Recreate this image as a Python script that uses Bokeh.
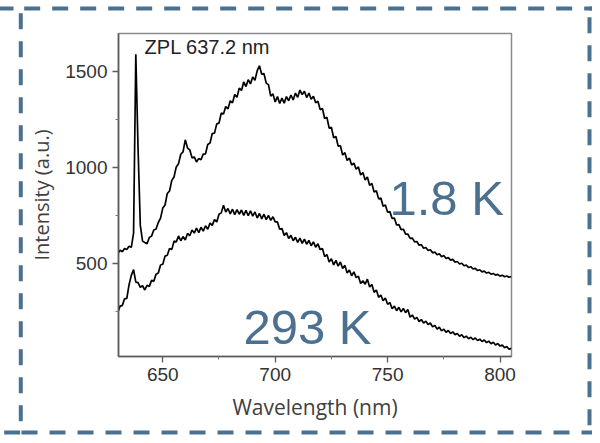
from bokeh.plotting import figure
from bokeh.models import Range1d, Label, FixedTicker
from bokeh.embed import file_html
from bokeh.resources import INLINE

# ---- data ----
wavelength_nm = list(range(630, 806))

intensity_1p8K = [
    552, 571, 563, 580, 574, 591, 586, 660, 1590, 1100,   # 630-639
    700, 618, 611, 604, 637, 644, 676, 681, 715, 738,     # 640-649
    790, 806, 866, 879, 934, 952, 1004, 1021, 1070, 1082, # 650-659
    1145, 1102, 1093, 1051, 1056, 1030, 1048, 1041, 1071, 1072,  # 660-669
    1121, 1128, 1178, 1180, 1228, 1232, 1284, 1279, 1318, 1306,  # 670-679
    1348, 1337, 1381, 1366, 1414, 1402, 1446, 1422, 1458, 1436,  # 680-689
    1472, 1455, 1505, 1530, 1486, 1490, 1440, 1432, 1372, 1384,  # 690-699
    1342, 1370, 1334, 1362, 1336, 1370, 1348, 1378, 1352, 1388,  # 700-709
    1366, 1404, 1380, 1398, 1365, 1388, 1356, 1372, 1338, 1346,  # 710-719
    1302, 1308, 1256, 1262, 1206, 1210, 1156, 1162, 1112, 1114,  # 720-729
    1066, 1078, 1038, 1050, 1014, 1024, 992, 1004, 962, 975,     # 730-739
    936, 952, 908, 918, 874, 880, 838, 842, 800, 806,            # 740-749
    768, 772, 736, 738, 702, 704, 678, 680, 654, 655,            # 750-759
    632, 634, 614, 616, 597, 600, 581, 585, 569, 573,            # 760-769
    557, 562, 547, 552, 537, 543, 528, 532, 519, 523,            # 770-779
    509, 512, 499, 503, 490, 493, 481, 485, 473, 476,            # 780-789
    465, 469, 458, 462, 452, 456, 446, 450, 441, 445,            # 790-799
    436, 441, 433, 437, 430, 434,                                # 800-805
]

intensity_293K = [
    248, 280, 284, 318, 320, 392, 440, 470, 405, 402,   # 630-639
    378, 386, 364, 388, 382, 414, 410, 446, 452, 494,   # 640-649
    498, 540, 545, 580, 574, 618, 614, 645, 620, 642,   # 650-659
    624, 658, 646, 676, 660, 686, 662, 690, 670, 698,   # 660-669
    680, 712, 700, 730, 718, 758, 765, 805, 770, 788,   # 670-679
    760, 784, 756, 782, 758, 780, 752, 778, 750, 775,   # 680-689
    748, 770, 738, 762, 734, 758, 730, 752, 726, 745,   # 690-699
    718, 718, 680, 684, 648, 662, 632, 648, 620, 638,   # 700-709
    612, 634, 606, 628, 602, 622, 594, 614, 586, 604,   # 710-719
    574, 580, 538, 548, 510, 526, 494, 518, 488, 510,   # 720-729
    476, 492, 452, 468, 438, 458, 428, 436, 398, 412,   # 730-739
    394, 420, 380, 392, 352, 364, 326, 338, 308, 322,   # 740-749
    290, 298, 266, 280, 256, 274, 250, 268, 246, 262,   # 750-759
    222, 234, 212, 222, 200, 210, 192, 202, 184, 192,   # 760-769
    172, 180, 161, 170, 151, 160, 144, 153, 138, 146,   # 770-779
    131, 138, 123, 131, 116, 124, 110, 118, 106, 114,   # 780-789
    101, 108, 96, 104, 90, 98, 84, 92, 78, 86,          # 790-799
    72, 78, 64, 70, 56, 60,                             # 800-805
]

x_major_ticks = [650, 700, 750, 800]
x_minor_ticks = [675, 725, 775]
y_major_ticks = [500, 1000, 1500]
y_minor_ticks = [250, 750, 1250]

zpl_text = "ZPL 637.2 nm"
zpl_label_pos = (641.9, 1629)
label_cold = "1.8 K"
label_cold_pos = (750.8, 842)
label_warm = "293 K"
label_warm_pos = (685.9, 171)

X_LO, X_HI = 630.3, 805.1
Y_LO, Y_HI = 18, 1698

ACCENT = "#4b7090"
W, H = 592, 435
FL, FR, FT, FB = 118, 511, 33, 356   # frame edges in canvas px

p = figure(width=W, height=H, output_backend="svg", toolbar_location=None,
           x_range=Range1d(X_LO, X_HI), y_range=Range1d(Y_LO, Y_HI),
           min_border_left=FL, min_border_right=W - FR,
           min_border_top=FT, min_border_bottom=H - FB)
p.background_fill_color = "white"
p.border_fill_color = "white"
p.grid.visible = False
p.outline_line_color = "#8a8a8a"
p.outline_line_width = 1.5

p.line(wavelength_nm, intensity_1p8K, line_color="black", line_width=1.7)
p.line(wavelength_nm, intensity_293K, line_color="black", line_width=1.7)

for ax, maj, mn in ((p.xaxis[0], x_major_ticks, x_minor_ticks),
                    (p.yaxis[0], y_major_ticks, y_minor_ticks)):
    ax.ticker = FixedTicker(ticks=maj, minor_ticks=mn)
    ax.axis_line_color = "#5a5a5a"
    ax.axis_line_width = 1.6
    ax.major_tick_line_color = "#5a5a5a"
    ax.major_tick_line_width = 1.3
    ax.major_tick_in = 0
    ax.major_tick_out = 6
    ax.minor_tick_line_color = "#7a7a7a"
    ax.minor_tick_in = 0
    ax.minor_tick_out = 3
    ax.major_label_text_font = "Liberation Sans"
    ax.major_label_text_font_size = "19px"
    ax.major_label_text_color = "#333333"
    ax.major_label_standoff = 5
    ax.axis_label_text_font = "Open Sans"
    ax.axis_label_text_font_size = "20px"
    ax.axis_label_text_font_style = "normal"
    ax.axis_label_text_color = "#404040"

p.xaxis.axis_label = "Wavelength (nm)"
p.yaxis.axis_label = "Intensity (a.u.)"
p.xaxis.axis_label_text_font_size = "21px"
p.xaxis.axis_label_standoff = 9
p.yaxis.axis_label_standoff = 7
p.yaxis.major_label_orientation = "horizontal"

p.add_layout(Label(x=zpl_label_pos[0], y=zpl_label_pos[1], text=zpl_text,
                   text_font="Liberation Sans", text_font_size="20px",
                   text_color="#222222", text_baseline="middle", text_align="left"))
for txt, pos in ((label_cold, label_cold_pos), (label_warm, label_warm_pos)):
    p.add_layout(Label(x=pos[0], y=pos[1], text=txt, text_font="Liberation Sans",
                       text_font_size="49px", text_color=ACCENT,
                       text_baseline="middle", text_align="left"))

# ---- dashed decorative border around the whole panel ----
# four thin, label-drawn boxes in canvas pixels; only one edge of each is on the canvas
BL, BR, BT, BB = 21, 589, 8, 432
OFF = 3   # how far the hidden edges lie beyond the canvas


def edge_box(left, top, right, bottom, side):
    p.add_layout(Label(x=left, y=top, x_units="canvas", y_units="canvas",
                       text=" ", text_font_size="1px",
                       text_align="left", text_baseline="top",
                       padding=dict(left=0, top=0, right=int(right - left - 1),
                                    bottom=int(bottom - top - 1)),
                       border_line_color=ACCENT, border_line_width=4,
                       border_line_dash="16 12", background_fill_alpha=0), side)


edge_box(BL, -OFF - 3, W + OFF + 3, BT, "above")        # top line
edge_box(-OFF, BT, BL, BB, "left")                      # left line
edge_box(BR, BT, W + OFF + 3, BB, "right")              # right line
edge_box(BL, BB, W + OFF + 3, H + OFF + 3, "below")     # bottom line

open("out.html", "w").write(file_html(p, INLINE))
